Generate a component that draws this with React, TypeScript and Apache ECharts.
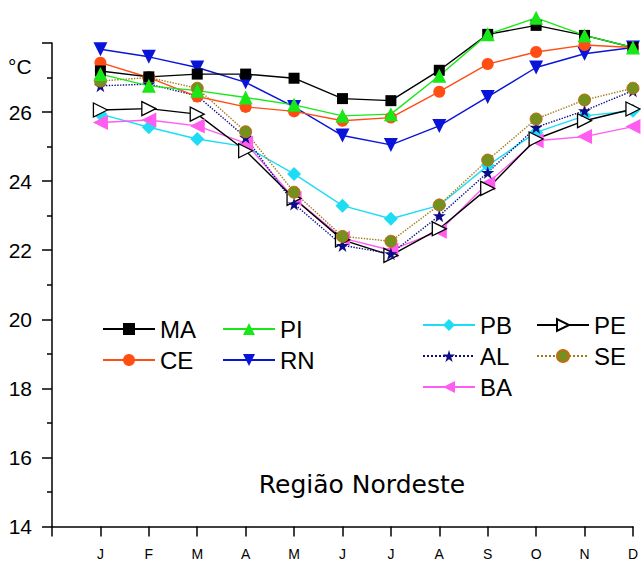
import React, { useEffect, useRef } from "react";
import * as echarts from "echarts";

const MONTHS = ["J", "F", "M", "A", "M", "J", "J", "A", "S", "O", "N", "D"];
const Y_TICKS_HIDDEN = [28];

const MA = [27.19, 27.02, 27.1, 27.1, 26.98, 26.39, 26.33, 27.21, 28.25, 28.51, 28.22, 27.87];
const CE = [27.43, 27.0, 26.45, 26.15, 26.02, 25.75, 25.84, 26.59, 27.39, 27.74, 27.94, 27.87];
const PI = [27.1, 26.76, 26.62, 26.42, 26.21, 25.89, 25.94, 27.05, 28.25, 28.73, 28.22, 27.87];
const RN = [27.82, 27.6, 27.29, 26.86, 26.15, 25.32, 25.05, 25.6, 26.44, 27.29, 27.69, 27.87];
const PB = [25.94, 25.56, 25.22, 25.0, 24.21, 23.29, 22.91, 23.3, 24.45, 25.41, 25.89, 26.04];
const PE = [26.06, 26.1, 25.94, 24.88, 23.5, 22.3, 21.85, 22.62, 23.79, 25.22, 25.75, 26.09];
const AL = [26.76, 26.81, 26.47, 25.27, 23.34, 22.14, 21.9, 23.0, 24.25, 25.56, 26.04, 26.62];
const SE = [26.9, 27.0, 26.69, 25.43, 23.68, 22.4, 22.26, 23.31, 24.61, 25.8, 26.35, 26.69];
const BA = [25.7, 25.77, 25.6, 25.1, 23.5, 22.35, 22.0, 22.55, 23.94, 25.17, 25.29, 25.58];

const STAR = "path://M50,0 L61,35 L98,35 L68,57 L79,91 L50,70 L21,91 L32,57 L2,35 L39,35 Z";

const toPts = (arr: number[]) => arr.map((v, i) => [i + 1, v]);

export default function App() {
  const ref = useRef<HTMLDivElement>(null);
  useEffect(() => {
    if (!ref.current) return;
    const chart = echarts.init(ref.current, undefined, { renderer: "svg" });
    const font = "Liberation Sans";

    const mk = (
      name: string,
      data: number[],
      color: string,
      symbol: string,
      size: number,
      extra: any = {}
    ) => ({
      name,
      type: "line",
      data: toPts(data),
      clip: false,
      symbol,
      symbolSize: size,
      lineStyle: { color, width: 1.4, type: extra.lineType || "solid" },
      itemStyle: {
        color: extra.fill || color,
        borderColor: extra.border || extra.fill || color,
        borderWidth: extra.borderWidth || 0,
      },
      symbolRotate: extra.rotate || 0,
      z: extra.z || 2,
    });

    const legendAt = (name: string, left: number, centerY: number) => ({
      data: [name],
      left,
      top: centerY - 12,
      padding: 0,
      itemWidth: 52,
      itemHeight: 15,
      itemGap: 0,
      selectedMode: false,
      textStyle: { fontSize: 24, lineHeight: 24, fontFamily: font, color: "#000" },
    });

    chart.setOption({
      animation: false,
      backgroundColor: "#fff",
      grid: { left: 52, right: 6, top: 43, bottom: 35.5, containLabel: false },
      xAxis: {
        type: "value",
        min: 0,
        max: 12,
        interval: 1,
        axisLine: { show: true, lineStyle: { color: "#000", width: 1.5 } },
        axisTick: { show: true, length: 10, lineStyle: { color: "#000", width: 1.5 } },
        splitLine: { show: false },
        axisLabel: {
          margin: 20,
          fontSize: 14,
          color: "#000",
          fontFamily: font,
          formatter: (v: number) => (v >= 1 && v <= 12 ? MONTHS[v - 1] : ""),
        },
      },
      yAxis: {
        type: "value",
        min: 14,
        max: 28,
        interval: 2,
        axisLine: { show: true, lineStyle: { color: "#000", width: 1.5 } },
        axisTick: { show: true, length: 10, lineStyle: { color: "#000", width: 1.5 } },
        minorTick: { show: true, splitNumber: 2, length: 5, lineStyle: { color: "#000", width: 1.5 } },
        splitLine: { show: false },
        axisLabel: {
          margin: 20,
          fontSize: 21,
          color: "#000",
          fontFamily: font,
          formatter: (v: number) => (Y_TICKS_HIDDEN.includes(v) ? "" : String(v)),
        },
      },
      legend: [
        legendAt("MA", 102, 329),
        legendAt("PI", 222, 329),
        legendAt("CE", 102, 360),
        legendAt("RN", 222, 360),
        legendAt("PB", 422, 325),
        legendAt("PE", 536, 325),
        legendAt("AL", 422, 356),
        legendAt("SE", 536, 356),
        legendAt("BA", 422, 387),
      ],
      graphic: [
        {
          type: "text",
          left: 8,
          top: 56,
          style: { text: "°C", fontSize: 21, fontFamily: font, fill: "#000" },
        },
        {
          type: "text",
          x: 362,
          y: 484,
          style: {
            text: "Região Nordeste",
            fontSize: 25,
            fontFamily: "DejaVu Sans",
            fill: "#000",
            align: "center",
            verticalAlign: "middle",
          },
        },
      ],
      series: [
        mk("PB", PB, "#1fdcf5", "diamond", 14),
        mk("BA", BA, "#ff5cf0", "triangle", 15, { rotate: 90 }),
        mk("PE", PE, "#000000", "triangle", 14, { rotate: -90, fill: "#ffffff", border: "#000000", borderWidth: 1.3 }),
        mk("AL", AL, "#0c0c88", STAR, 13, { lineType: "dotted" }),
        mk("SE", SE, "#a07a18", "circle", 12, { lineType: "dotted", fill: "#74901e", border: "#c46a10", borderWidth: 1 }),
        mk("RN", RN, "#0a14d8", "triangle", 14, { rotate: 180 }),
        mk("CE", CE, "#ff4d14", "circle", 12),
        mk("MA", MA, "#000000", "rect", 11),
        mk("PI", PI, "#18e818", "triangle", 14),
      ],
    });
    return () => chart.dispose();
  }, []);
  return (
    <div
      ref={ref}
      style={{ position: "fixed", left: 0, top: 0, width: 641, height: 562, background: "#fff" }}
    />
  );
}
